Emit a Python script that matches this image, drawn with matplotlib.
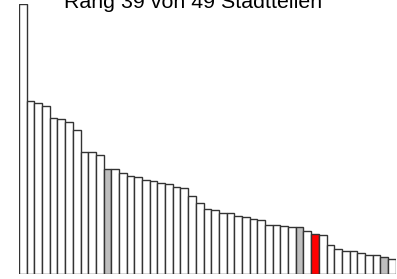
import matplotlib
matplotlib.use("Agg")
import matplotlib.pyplot as plt

# values per district, sorted descending (first bar = 100)
values = [100, 64.1, 63.3, 62.4, 57.7, 57.5, 56.5, 53.3, 45.3, 45.1,
          44.1, 39.0, 38.8, 37.3, 36.2, 35.9, 34.9, 34.4, 33.7, 33.5,
          32.3, 31.8, 28.8, 26.2, 24.0, 23.6, 22.6, 22.5, 21.4, 21.0,
          20.5, 19.9, 18.2, 18.1, 17.9, 17.5, 17.4, 15.9, 14.8, 14.5,
          10.8, 9.3, 8.6, 8.4, 7.8, 7.2, 6.9, 6.2, 5.5]
grey_idx = [11, 36, 47]
red_idx = 38
title = "Rang 39 von 49 Stadtteilen"

colors = ["white"] * len(values)
for i in grey_idx:
    colors[i] = "#bebebe"
colors[red_idx] = "red"

W, H = 397, 279
fig = plt.figure(figsize=(W / 100, H / 100), dpi=100)
ax = fig.add_axes([19 / W, 5 / H, 376.7 / W, 269.7 / H])
ax.bar(range(len(values)), values, width=1, align="edge",
       color=colors, edgecolor="#333333", linewidth=1.0)
ax.set_xlim(0, len(values))
ax.set_ylim(0, 100)
ax.axis("off")

fig.text(193 / W, 1 - 7.5 / H, title, ha="center", va="baseline",
         fontsize=15.4, family="Liberation Sans")

fig.savefig("out.png", dpi=100)
